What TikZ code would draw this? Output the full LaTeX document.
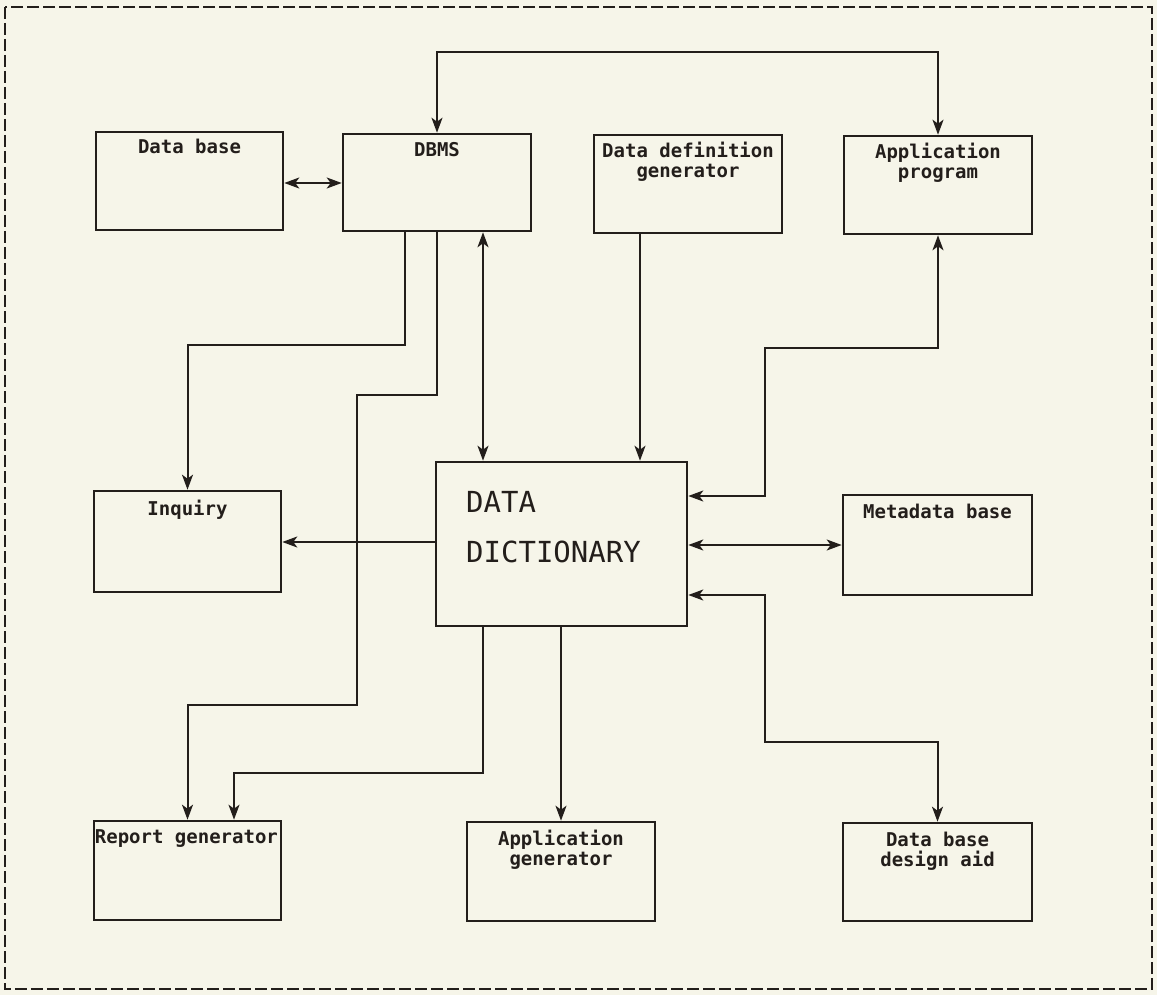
\documentclass[tikz,border=0pt]{standalone}
\usepackage{fontspec}
\newfontfamily\plotfont{DejaVu Sans Mono}
\usetikzlibrary{arrows.meta}
\definecolor{paper}{RGB}{246,245,233}
\definecolor{ink}{RGB}{35,30,27}
\begin{document}
\begin{tikzpicture}[x=1pt,y=-1pt,
  box/.style={draw=ink, line width=2.6pt, inner sep=0pt, fill=none},
  lbl/.style={font={\plotfont\bfseries\fontsize{19pt}{20pt}\selectfont}, inner sep=0pt, align=center, text=ink},
  ddtxt/.style={font={\plotfont\fontsize{29pt}{29pt}\selectfont}, inner sep=0pt, text=ink},
  conn/.style={draw=ink, line width=2pt, arrows={-}},
  tip/.tip={Stealth[length=15pt,width=11pt,inset=4pt]},
  >=tip]
\fill[paper] (0,0) rectangle (1157,995);
\useasboundingbox (0,0) rectangle (1157,995);
\draw[ink, line width=2.2pt, dash pattern=on 12pt off 4pt] (5,7) rectangle (1152,989);

% boxes
\node[box, minimum width=187pt, minimum height=98pt] (db) at (189.5,181) {};
\node[box, minimum width=188pt, minimum height=97pt] (dbms) at (437,182.5) {};
\node[box, minimum width=188pt, minimum height=98pt] (ddg) at (688,184) {};
\node[box, minimum width=188pt, minimum height=98pt] (app) at (938,185) {};
\node[box, minimum width=187pt, minimum height=101pt] (inq) at (187.5,541.5) {};
\node[box, minimum width=251pt, minimum height=164pt] (dd) at (561.5,544) {};
\node[box, minimum width=189pt, minimum height=100pt] (meta) at (937.5,545) {};
\node[box, minimum width=187pt, minimum height=99pt] (rep) at (187.5,870.5) {};
\node[box, minimum width=188pt, minimum height=99pt] (appgen) at (561,871.5) {};
\node[box, minimum width=189pt, minimum height=98pt] (dbda) at (937.5,872) {};

% labels
\node[lbl, anchor=north] (dbT) at ([yshift=-8pt]db.north) {Data base};
\node[lbl, anchor=north] (dbmsT) at ([yshift=-9pt]dbms.north) {DBMS};
\node[lbl, anchor=north] (ddgT) at ([yshift=-8pt]ddg.north) {Data definition\\generator};
\node[lbl, anchor=north] (appT) at ([yshift=-8pt]app.north) {Application\\program};
\node[lbl, anchor=north] (inqT) at ([yshift=-10pt]inq.north) {Inquiry};
\node[lbl, anchor=north] (metaT) at ([yshift=-10pt]meta.north) {Metadata base};
\node[lbl, anchor=north west] (repT) at ([xshift=2pt,yshift=-10pt]rep.north west) {Report generator};
\node[lbl, anchor=north] (appgenT) at ([yshift=-9pt]appgen.north) {Application\\generator};
\node[lbl, anchor=north] (dbdaT) at ([yshift=-10pt]dbda.north) {Data base\\design aid};
\node[ddtxt, anchor=base west] (ddA) at (466,512.5) {DATA};
\node[ddtxt, anchor=base west] (ddB) at (466,562.5) {DICTIONARY};

% connectors
\coordinate (ctop) at (437,52);
\draw[conn,<->] (dbms.north) -- (ctop) -| (app.north);

\coordinate (yDB) at (0,183);
\draw[conn,<->] (db.east |- yDB) -- (dbms.west |- yDB);

\coordinate (a1) at (405,345);
\draw[conn,->] (a1 |- dbms.south) -- (a1) -| (inq.north);

\coordinate (a2) at (357,395);
\coordinate (a3) at (357,705);
\draw[conn,->] (dbms.south) |- (a2) -- (a3) -| (rep.north);

\coordinate (xv) at (483,0);
\draw[conn,<->] (xv |- dbms.south) -- (xv |- dd.north);

\coordinate (xg) at (640,0);
\draw[conn,->] (xg |- ddg.south) -- (xg |- dd.north);

\coordinate (a4) at (765,496);
\coordinate (a5) at (765,348);
\draw[conn,<->] (a4 -| dd.east) -- (a4) -- (a5) -| (app.south);

\coordinate (yI) at (0,542);
\draw[conn,->] (dd.west |- yI) -- (inq.east |- yI);

\draw[conn,<->] (dd.east |- meta.west) -- (meta.west);

\coordinate (a6) at (765,595);
\coordinate (a7) at (765,742);
\draw[conn,<->] (a6 -| dd.east) -- (a6) -- (a7) -| (dbda.north);

\coordinate (a8) at (483,773);
\coordinate (a9) at (234,0);
\draw[conn,->] (a8 |- dd.south) -- (a8) -| (a9 |- rep.north);

\draw[conn,->] (dd.south -| appgen.north) -- (appgen.north);
\end{tikzpicture}
\end{document}
